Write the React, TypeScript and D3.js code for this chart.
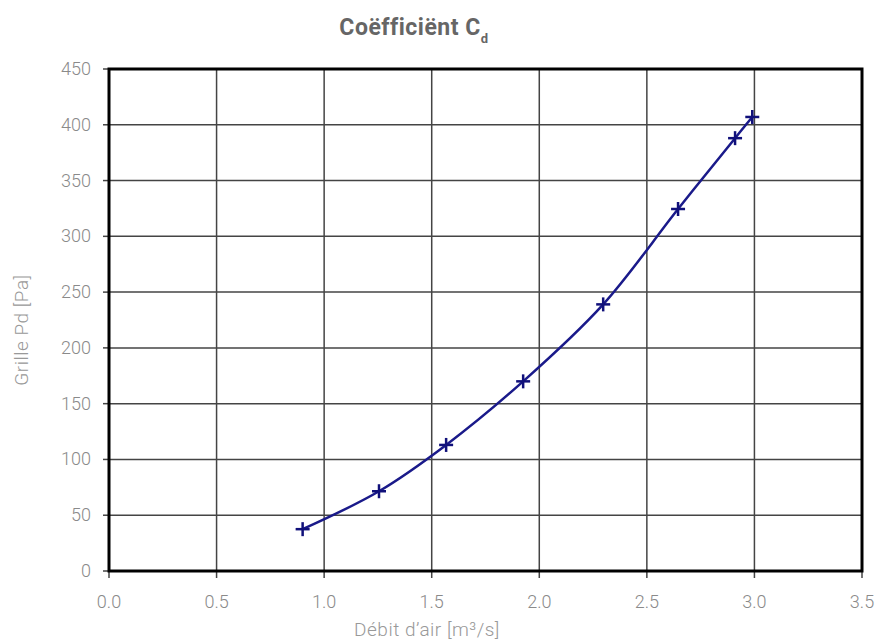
import React from "react";
import * as d3 from "d3";

const xValues = [0.9, 1.255, 1.567, 1.925, 2.297, 2.645, 2.91, 2.99];
const yValues = [37.5, 71.5, 113, 170, 239, 324.5, 388, 407];
const xTicks = [0, 0.5, 1, 1.5, 2, 2.5, 3, 3.5];
const yTicks = [0, 50, 100, 150, 200, 250, 300, 350, 400, 450];

const W = 892;
const H = 641;
const L = 109, R = 862, T = 69, B = 571;
const FONT = "Roboto, 'DejaVu Sans', sans-serif";

export default function App() {
  const x = d3.scaleLinear().domain([0, 3.5]).range([L, R]);
  const y = d3.scaleLinear().domain([0, 450]).range([B, T]);
  const pts: [number, number][] = xValues.map((v, i) => [v, yValues[i]]);
  const line = d3
    .line<[number, number]>()
    .x((d) => x(d[0]))
    .y((d) => y(d[1]))
    .curve(d3.curveCatmullRom.alpha(0.5));
  return (
    <svg width={W} height={H} style={{ position: "absolute", left: 0, top: 0, background: "#fff" }}>
      <text x={414} y={35} textAnchor="middle" fontFamily={FONT} fontWeight={700} fontSize={23} fill="#666" letterSpacing={0.5}>
        Coëfficiënt C<tspan fontSize={13} dy={8}>d</tspan>
      </text>
      {xTicks.map((t) => (
        <g key={"x" + t}>
          {t > 0 && t < 3.5 && <line x1={x(t)} x2={x(t)} y1={T} y2={B} stroke="#444" strokeWidth={1.5} />}
          <line x1={x(t)} x2={x(t)} y1={B} y2={B + 7} stroke="#444" strokeWidth={1.5} />
          <text x={x(t)} y={608} textAnchor="middle" fontFamily={FONT} fontWeight={300} fontSize={18} fill="#8a8a8a">
            {t.toFixed(1)}
          </text>
        </g>
      ))}
      {yTicks.map((t) => (
        <g key={"y" + t}>
          {t > 0 && t < 450 && <line x1={L} x2={R} y1={y(t)} y2={y(t)} stroke="#444" strokeWidth={1.5} />}
          <line x1={L - 6} x2={L} y1={y(t)} y2={y(t)} stroke="#444" strokeWidth={1.5} />
          <text x={91} y={y(t) + 6} textAnchor="end" fontFamily={FONT} fontWeight={300} fontSize={18} fill="#8a8a8a">
            {t}
          </text>
        </g>
      ))}
      <rect x={L} y={T} width={R - L} height={B - T} fill="none" stroke="#000" strokeWidth={3} />
      <path d={line(pts) || ""} fill="none" stroke="#1a1a8a" strokeWidth={2.5} />
      {pts.map((p, i) => (
        <g key={"m" + i} stroke="#10107a" strokeWidth={2.5}>
          <line x1={x(p[0]) - 7} x2={x(p[0]) + 7} y1={y(p[1])} y2={y(p[1])} />
          <line x1={x(p[0])} x2={x(p[0])} y1={y(p[1]) - 7} y2={y(p[1]) + 7} />
        </g>
      ))}
      <text x={427} y={636} textAnchor="middle" fontFamily={FONT} fontWeight={300} fontSize={19} fill="#999" letterSpacing={0.5}>
        Débit d’air [m³/s]
      </text>
      <text
        transform="translate(28,330) rotate(-90)"
        textAnchor="middle"
        fontFamily={FONT}
        fontWeight={300}
        fontSize={19}
        fill="#999"
        letterSpacing={0.5}
      >
        Grille Pd [Pa]
      </text>
    </svg>
  );
}
